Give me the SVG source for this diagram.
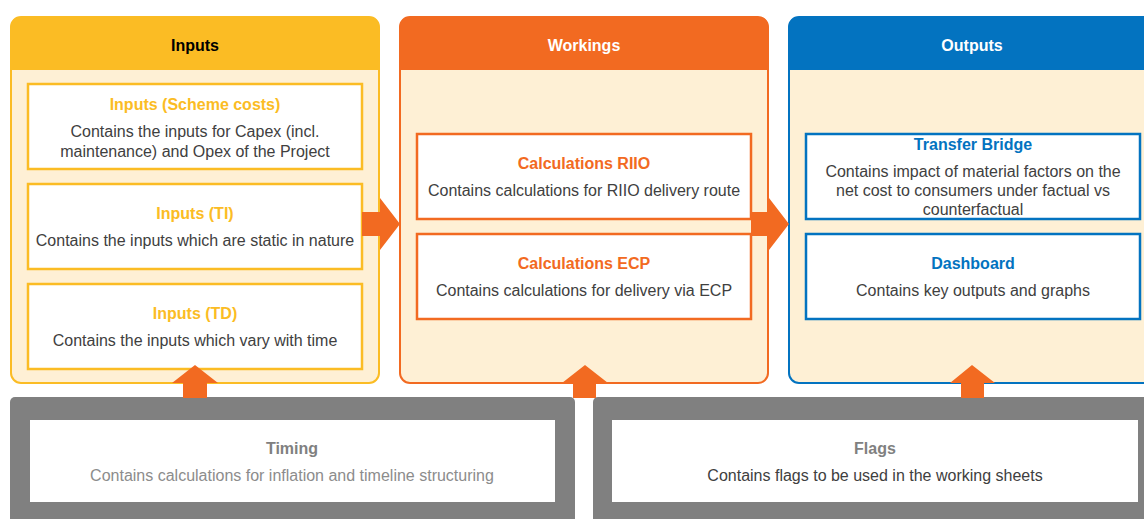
<svg xmlns="http://www.w3.org/2000/svg" width="1144" height="519" viewBox="0 0 1144 519">
  <defs>
    <style>
      text { font-family: "Liberation Sans", Arial, sans-serif; text-anchor: middle; }
      .hdr { font-size: 16px; font-weight: bold; }
      .ttl { font-size: 16px; font-weight: bold; }
      .desc { font-size: 16px; fill: #404040; }
      .body { fill: #FEF0D5; }
      .card { fill: #FFFFFF; stroke-width: 2.5; }
      .yel { stroke: #FBBC24; }
      .ora { stroke: #F26A21; }
      .blu { stroke: #0373C0; }
      .arrow { fill: #F26A21; }
    </style>
  </defs>
  <rect width="1144" height="519" fill="#FFFFFF"/>

  <!-- Inputs column -->
  <g id="inputs">
    <rect x="11" y="17" width="368" height="366" rx="10" class="body" stroke="#FBBC24" stroke-width="2"/>
    <path d="M11 70 V27 Q11 17 21 17 H369 Q379 17 379 27 V70 Z" fill="#FBBC24"/>
    <text x="195" y="50.5" class="hdr" fill="#000000">Inputs</text>
  </g>
  <g id="inputs-scheme-costs">
    <rect x="28" y="84" width="334" height="85" class="card yel"/>
    <text x="195" y="109.5" class="ttl" fill="#FBBC24">Inputs (Scheme costs)</text>
    <text x="195" y="136.5" class="desc">Contains the inputs for Capex (incl.</text>
    <text x="195" y="156.5" class="desc">maintenance) and Opex of the Project</text>
  </g>
  <g id="inputs-ti">
    <rect x="28" y="184" width="334" height="85" class="card yel"/>
    <text x="195" y="218.5" class="ttl" fill="#FBBC24">Inputs (TI)</text>
    <text x="195" y="245.5" class="desc">Contains the inputs which are static in nature</text>
  </g>
  <g id="inputs-td">
    <rect x="28" y="284" width="334" height="85" class="card yel"/>
    <text x="195" y="318.5" class="ttl" fill="#FBBC24">Inputs (TD)</text>
    <text x="195" y="345.5" class="desc">Contains the inputs which vary with time</text>
  </g>

  <!-- Workings column -->
  <g id="workings">
    <rect x="400" y="17" width="368" height="366" rx="10" class="body" stroke="#F26A21" stroke-width="2"/>
    <path d="M400 70 V27 Q400 17 410 17 H758 Q768 17 768 27 V70 Z" fill="#F26A21"/>
    <text x="584" y="50.5" class="hdr" fill="#FFFFFF">Workings</text>
  </g>
  <g id="calc-riio">
    <rect x="417" y="134" width="334" height="85" class="card ora"/>
    <text x="584" y="168.5" class="ttl" fill="#F26A21">Calculations RIIO</text>
    <text x="584" y="195.5" class="desc">Contains calculations for RIIO delivery route</text>
  </g>
  <g id="calc-ecp">
    <rect x="417" y="234" width="334" height="85" class="card ora"/>
    <text x="584" y="268.5" class="ttl" fill="#F26A21">Calculations ECP</text>
    <text x="584" y="295.5" class="desc">Contains calculations for delivery via ECP</text>
  </g>

  <!-- Outputs column -->
  <g id="outputs">
    <rect x="789" y="17" width="368" height="366" rx="10" class="body" stroke="#0373C0" stroke-width="2"/>
    <path d="M789 70 V27 Q789 17 799 17 H1147 Q1157 17 1157 27 V70 Z" fill="#0373C0"/>
    <text x="972" y="50.5" class="hdr" fill="#FFFFFF">Outputs</text>
  </g>
  <g id="transfer-bridge">
    <rect x="806" y="134" width="334" height="85" class="card blu"/>
    <text x="973" y="149.5" class="ttl" fill="#0373C0">Transfer Bridge</text>
    <text x="973" y="176.5" class="desc">Contains impact of material factors on the</text>
    <text x="973" y="195.5" class="desc">net cost to consumers under factual vs</text>
    <text x="973" y="214.5" class="desc">counterfactual</text>
  </g>
  <g id="dashboard">
    <rect x="806" y="234" width="334" height="85" class="card blu"/>
    <text x="973" y="268.5" class="ttl" fill="#0373C0">Dashboard</text>
    <text x="973" y="295.5" class="desc">Contains key outputs and graphs</text>
  </g>

  <!-- Supporting sheets -->
  <g id="timing">
    <rect x="10" y="397" width="565" height="140" rx="5" fill="#808080"/>
    <rect x="30" y="420" width="525" height="82" fill="#FFFFFF"/>
    <text x="292" y="453.5" class="ttl" fill="#808080">Timing</text>
    <text x="292" y="480.5" class="desc" style="fill:#8C8C8C">Contains calculations for inflation and timeline structuring</text>
  </g>
  <g id="flags">
    <rect x="593" y="397" width="565" height="140" rx="5" fill="#808080"/>
    <rect x="612" y="420" width="526" height="82" fill="#FFFFFF"/>
    <text x="875" y="453.5" class="ttl" fill="#808080">Flags</text>
    <text x="875" y="480.5" class="desc">Contains flags to be used in the working sheets</text>
  </g>

  <!-- Connectors -->
  <g id="connectors">
    <path class="arrow" d="M362 212 H380 V198 L400 224 L380 250 V236 H362 Z"/>
    <path class="arrow" d="M751 212 H769 V198 L789 224 L769 250 V236 H751 Z"/>
    <path class="arrow" d="M183 398 V383 H172 L195 365 L218 383 H207 V398 Z"/>
    <path class="arrow" d="M573 398 V383 H562 L585 365 L608 383 H596 V398 Z"/>
    <path class="arrow" d="M961 398 V383 H950 L972 365 L995 383 H984 V398 Z"/>
  </g>
</svg>
